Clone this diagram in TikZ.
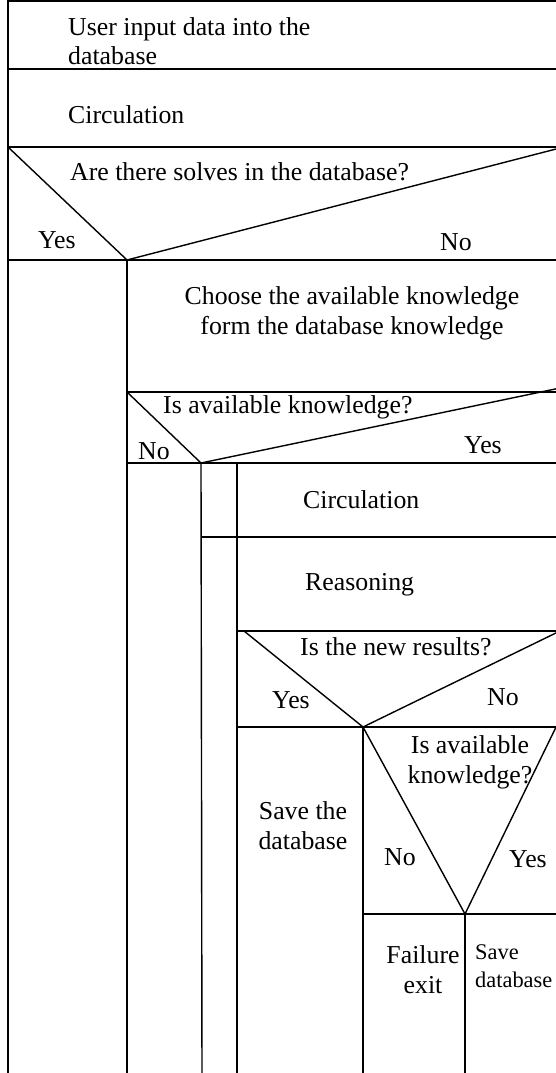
\documentclass[tikz,border=0pt]{standalone}
\usepackage{fontspec}
\setmainfont{Liberation Serif}
\begin{document}
\begin{tikzpicture}[x=1pt,y=-1pt,
  ln/.style={line width=1.4pt,line cap=rect},
  txt/.style={inner sep=0pt,font=\fontsize{25.8}{30}\selectfont},
  small/.style={inner sep=0pt,font=\fontsize{22.4}{28}\selectfont}]
\useasboundingbox (0,0) rectangle (556,1073);
\begin{scope}
\clip (0,0) rectangle (556,1073);
% grid coordinates
\coordinate (tl) at (8,1);   \coordinate (tr) at (560,1);
\coordinate (a1) at (8,69);  \coordinate (b1) at (560,69);
\coordinate (a2) at (8,147); \coordinate (b2) at (560,147);
\coordinate (a3) at (8,260); \coordinate (b3) at (560,260);
\coordinate (v1) at (127,260);
\coordinate (a4) at (127,392); \coordinate (b4) at (560,392);
\coordinate (a5) at (127,463); \coordinate (b5) at (560,463);
\coordinate (v2) at (201,463);
\coordinate (a6) at (202,537); \coordinate (b6) at (560,537);
\coordinate (a7) at (237,631); \coordinate (b7) at (560,631);
\coordinate (d3) at (244,631);
\coordinate (a8) at (237,727); \coordinate (b8) at (560,727);
\coordinate (v3) at (363,727);
\coordinate (a9) at (363,914); \coordinate (b9) at (560,914);
\coordinate (v4) at (465,914);
\coordinate (r1) at (560,148);
\coordinate (r2) at (560,388);
\coordinate (r4) at (558,723);
\coordinate (c237) at (237,465);
\coordinate (bl) at (8,1080);
\coordinate (bv1) at (127,1080);
\coordinate (bv2) at (202,1080);
\coordinate (bv3) at (237,1080);
\coordinate (bv4) at (363,1080);
\coordinate (bv5) at (465,1080);
% horizontal lines
\draw[ln] (tl) -- (tr);
\draw[ln] (a1) -- (b1);
\draw[ln] (a2) -- (b2);
\draw[ln] (a3) -- (b3);
\draw[ln] (a4) -- (b4);
\draw[ln] (a5) -- (b5);
\draw[ln] (a6) -- (b6);
\draw[ln] (a7) -- (b7);
\draw[ln] (a8) -- (b8);
\draw[ln] (a9) -- (b9);
% vertical lines
\draw[ln] (tl) -- (bl);
\draw[ln] (v1) -- (bv1);
\draw[ln] (v2) -- (bv2);
\draw[ln] (c237) -- (bv3);
\draw[ln] (v3) -- (bv4);
\draw[ln] (v4) -- (bv5);
% decision diagonals
\draw[ln] (a2) -- (v1) -- (r1);
\draw[ln] (a4) -- (v2) -- (r2);
\draw[ln] (d3) -- (v3) -- (b7);
\draw[ln] (v3) -- (v4) -- (r4);
\end{scope}
% texts
\node[txt,anchor=west,align=left,font=\fontsize{25.8}{28.5}\selectfont] (t1) at (68,41) {User input data into the\\database};
\node[txt,anchor=west] (t2) at (68,115) {Circulation};
\node[txt,anchor=west] (q1) at (70,172) {Are there solves in the database?};
\node[txt,anchor=west] (y1) at (38,240) {Yes};
\node[txt,anchor=west] (n1) at (440,242) {No};
\node[txt,align=center] (t3) at (352,313) {Choose the available knowledge\\form the database knowledge};
\node[txt,anchor=west] (q2) at (163,407) {Is available knowledge?};
\node[txt,anchor=west] (n2) at (138,451) {No};
\node[txt,anchor=west] (y2) at (464,445) {Yes};
\node[txt,anchor=west] (t4) at (303,500) {Circulation};
\node[txt,anchor=west] (t5) at (305,585) {Reasoning};
\node[txt,anchor=west] (q3) at (300,647) {Is the new results?};
\node[txt,anchor=west] (y3) at (272,700) {Yes};
\node[txt,anchor=west] (n3) at (487,697) {No};
\node[txt,align=center] (q4) at (470,762) {Is available\\knowledge?};
\node[txt,align=center] (t6) at (303,826) {Save the\\database};
\node[txt,anchor=west] (n4) at (384,857) {No};
\node[txt,anchor=west] (y4) at (509,859) {Yes};
\node[txt,align=center] (t7) at (423,970) {Failure\\exit};
\node[small,anchor=west,align=left] (t8) at (475,966) {Save\\database};
\end{tikzpicture}
\end{document}
